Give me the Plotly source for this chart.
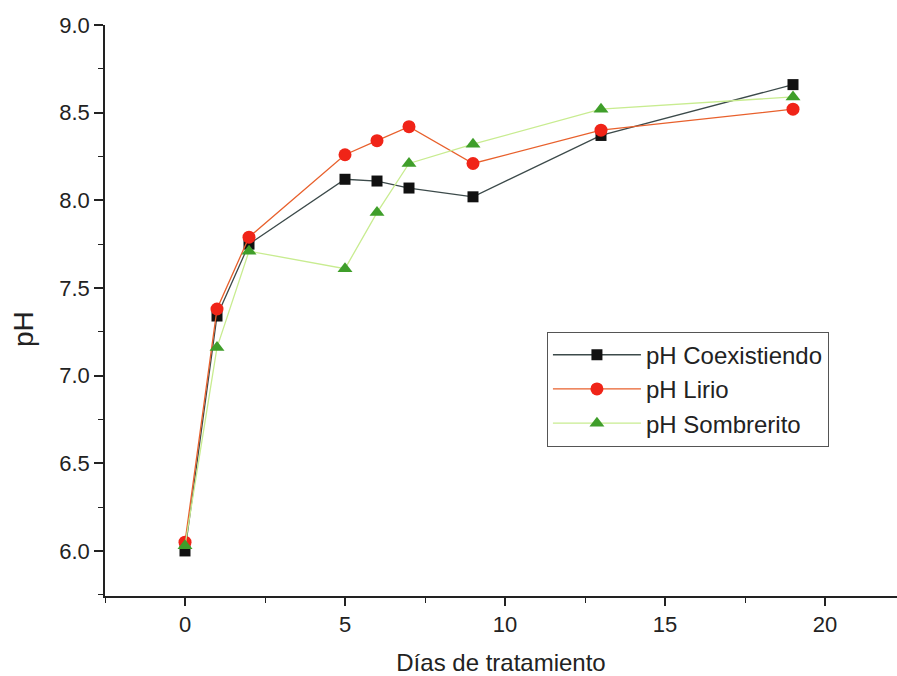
import plotly.graph_objects as go

# Días de tratamiento
dias = [0, 1, 2, 5, 6, 7, 9, 13, 19]

# pH medido en cada tratamiento
ph_coexistiendo = [6.00, 7.34, 7.75, 8.12, 8.11, 8.07, 8.02, 8.37, 8.66]
ph_lirio = [6.05, 7.38, 7.79, 8.26, 8.34, 8.42, 8.21, 8.40, 8.52]
ph_sombrerito = [6.03, 7.16, 7.71, 7.61, 7.93, 8.21, 8.32, 8.52, 8.59]

x_ticks = [0, 5, 10, 15, 20]
y_ticks = [6.0, 6.5, 7.0, 7.5, 8.0, 8.5, 9.0]

series = [
    ("pH Coexistiendo", ph_coexistiendo, "#3c4a4a", "square", "#111111", 11),
    ("pH Lirio", ph_lirio, "#e8602c", "circle", "#f02418", 13),
    ("pH Sombrerito", ph_sombrerito, "#c8ec90", "triangle-up", "#3f9e2a", 13),
]

fig = go.Figure()
for name, vals, line_color, symbol, marker_color, size in series:
    fig.add_trace(go.Scatter(
        x=dias, y=vals, name=name, mode="lines+markers",
        line=dict(color=line_color, width=1.3),
        marker=dict(symbol=symbol, color=marker_color, size=size,
                    line=dict(width=0)),
        cliponaxis=False,
    ))

font_family = "Liberation Sans, Arial, sans-serif"
axis_font = dict(family=font_family, size=22, color="#222222")

fig.update_layout(
    width=897, height=676,
    margin=dict(l=105, r=0, t=25, b=80),
    paper_bgcolor="white", plot_bgcolor="white",
    font=axis_font,
    showlegend=True,
    legend=dict(
        x=0.558, y=0.463, xanchor="left", yanchor="top",
        bgcolor="white", bordercolor="#555555", borderwidth=1,
        font=dict(family=font_family, size=24, color="#222222"),
        itemwidth=88, tracegroupgap=0,
    ),
    annotations=[dict(
        text="pH", textangle=-90, showarrow=False,
        xref="paper", yref="paper", x=-0.102, y=0.468,
        xanchor="center", yanchor="middle",
        font=dict(family=font_family, size=28, color="#222222"),
    )],
)

fig.update_xaxes(
    range=[-2.5, 22.25], tickvals=x_ticks, ticktext=[str(v) for v in x_ticks],
    showgrid=False, zeroline=False,
    showline=True, linecolor="#222222", linewidth=1.5,
    ticks="outside", ticklen=8, tickwidth=1.5, tickcolor="#222222",
    minor=dict(dtick=2.5, tick0=0, ticks="outside", ticklen=5, tickwidth=1.2, tickcolor="#222222"),
    title=dict(text="Días de tratamiento", font=dict(family=font_family, size=24), standoff=18),
    tickfont=axis_font,
)
fig.update_yaxes(
    range=[5.743, 9.0], tickvals=y_ticks, ticktext=[f"{v:.1f}" for v in y_ticks],
    showgrid=False, zeroline=False,
    showline=True, linecolor="#222222", linewidth=1.5,
    ticks="outside", ticklen=9, tickwidth=1.5, tickcolor="#222222",
    minor=dict(dtick=0.25, tick0=0, ticks="outside", ticklen=5, tickwidth=1.2, tickcolor="#222222"),
    tickfont=axis_font,
)

fig.write_html("out.html")
